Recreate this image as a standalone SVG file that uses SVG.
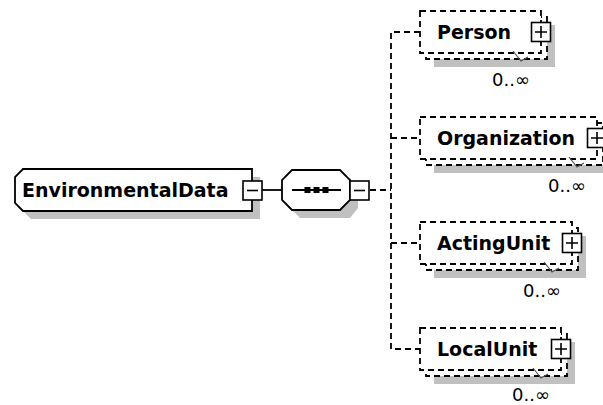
<svg xmlns="http://www.w3.org/2000/svg" width="603" height="405" viewBox="0 0 603 405">
<style>
.bg{fill:#fff}
.shadow{fill:#c0c0c0}
.solid{fill:#fff;stroke:#000;stroke-width:1.8}
.dash{fill:#fff;stroke:#000;stroke-width:1.8;stroke-dasharray:6 4}
.conn{fill:none;stroke:#000;stroke-width:1.8}
.connd{fill:none;stroke:#000;stroke-width:1.8;stroke-dasharray:6 4}
.name{font-family:"DejaVu Sans",sans-serif;font-weight:bold;font-size:19px;fill:#000}
.mult{font-family:"DejaVu Sans",sans-serif;font-size:18px;fill:#000}
.icon{fill:#fff;stroke:#000;stroke-width:1.6}
.iline{fill:none;stroke:#000;stroke-width:1.6}
.tick{fill:none;stroke:#555;stroke-width:1.2}
.dot{fill:#000}
</style>
<rect class="bg" x="0" y="0" width="603" height="405"/>

<g id="connectors">
  <path class="conn" d="M262 190 H282"/>
  <path class="connd" d="M370 190 H391"/>
  <path class="connd" d="M420 32 H391 V349 H420"/>
  <path class="connd" d="M391 138 H420"/>
  <path class="connd" d="M391 243 H420"/>
</g>

<g id="EnvironmentalData">
  <polygon class="shadow" points="31,177 260,177 260,219 31,219 23,211 23,185"/>
  <polygon class="solid" points="23,169 252,169 252,211 23,211 15,203 15,177"/>
  <text class="name" x="22" y="197">EnvironmentalData</text>
  <rect class="icon" x="243" y="181" width="19" height="19"/>
  <path class="iline" d="M247 190.5 H258"/>
</g>

<g id="sequence">
  <polygon class="shadow" points="300,178 350,178 358,188 358,208 350,218 300,218 290,208 290,188"/>
  <polygon class="solid" points="292,170 340,170 350,180 350,200 340,210 292,210 282,200 282,180"/>
  <path class="conn" d="M292 190 H341"/>
  <rect class="dot" x="304.5" y="187" width="6" height="6"/>
  <rect class="dot" x="313.5" y="187" width="6" height="6"/>
  <rect class="dot" x="322.5" y="187" width="6" height="6"/>
  <rect class="icon" x="350" y="181" width="19" height="19"/>
  <path class="iline" d="M354 190.5 H365"/>
</g>

<g id="Person">
  <rect class="shadow" x="434" y="25" width="121" height="42"/>
  <rect class="dash" x="426" y="17" width="121" height="42"/>
  <rect class="dash" x="420" y="11" width="121" height="42"/>
  <text class="name" x="437" y="39">Person</text>
  <rect class="icon" x="531.5" y="22.5" width="19" height="19"/>
  <path class="iline" d="M535 32 H547 M541 26 V38"/>
  <path class="tick" d="M513 51 L521 61 L528 57"/>
  <text class="mult" x="530" y="86" text-anchor="end">0..∞</text>
</g>

<g id="Organization">
  <rect class="shadow" x="434" y="131" width="177" height="42"/>
  <rect class="dash" x="426" y="123" width="177" height="42"/>
  <rect class="dash" x="420" y="117" width="177" height="42"/>
  <text class="name" x="437" y="145">Organization</text>
  <rect class="icon" x="587.5" y="128.5" width="19" height="19"/>
  <path class="iline" d="M591 138 H603 M597 132 V144"/>
  <path class="tick" d="M569 157 L577 167 L584 163"/>
  <text class="mult" x="586" y="192" text-anchor="end">0..∞</text>
</g>

<g id="ActingUnit">
  <rect class="shadow" x="434" y="236" width="152" height="42"/>
  <rect class="dash" x="426" y="228" width="152" height="42"/>
  <rect class="dash" x="420" y="222" width="152" height="42"/>
  <text class="name" x="437" y="250">ActingUnit</text>
  <rect class="icon" x="562.5" y="233.5" width="19" height="19"/>
  <path class="iline" d="M566 243 H578 M572 237 V249"/>
  <path class="tick" d="M544 262 L552 272 L559 268"/>
  <text class="mult" x="561" y="297" text-anchor="end">0..∞</text>
</g>

<g id="LocalUnit">
  <rect class="shadow" x="434" y="342" width="141" height="42"/>
  <rect class="dash" x="426" y="334" width="141" height="42"/>
  <rect class="dash" x="420" y="328" width="141" height="42"/>
  <text class="name" x="437" y="356">LocalUnit</text>
  <rect class="icon" x="551.5" y="339.5" width="19" height="19"/>
  <path class="iline" d="M555 349 H567 M561 343 V355"/>
  <path class="tick" d="M533 368 L541 378 L548 374"/>
  <text class="mult" x="550" y="401" text-anchor="end">0..∞</text>
</g>
</svg>
